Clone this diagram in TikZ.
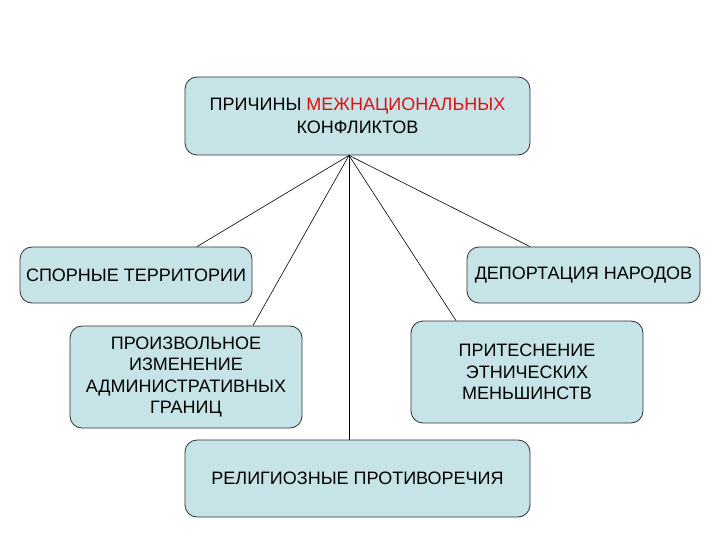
\documentclass[tikz,border=0pt]{standalone}
\usepackage{fontspec}
\setmainfont{Liberation Sans}
\usetikzlibrary{calc}
\definecolor{boxfill}{HTML}{C6E4E8}
\definecolor{boxline}{HTML}{303030}
\definecolor{redtext}{HTML}{E01010}
\tikzset{
  cbox/.style={draw=boxline, line width=0.8pt, fill=boxfill, rounded corners=12pt,
    align=center, inner sep=0pt, font=\fontsize{18}{21.5}\selectfont},
  link/.style={draw=black, line width=0.6pt}
}
\begin{document}
\begin{tikzpicture}[x=1pt,y=-1pt]
\useasboundingbox (0,0) rectangle (720,540);
\node[cbox, minimum width=345pt, minimum height=78pt, font=\fontsize{18}{23}\selectfont] (top) at (357.5,116)
  {ПРИЧИНЫ \textcolor{redtext}{МЕЖНАЦИОНАЛЬНЫХ}\\КОНФЛИКТОВ};
\node[cbox, minimum width=232pt, minimum height=56pt] (l1) at (136,275)
  {СПОРНЫЕ ТЕРРИТОРИИ};
\node[cbox, minimum width=233pt, minimum height=56pt] (r1) at (583.5,275)
  {ДЕПОРТАЦИЯ НАРОДОВ};
\node[cbox, minimum width=232pt, minimum height=102pt] (l2) at (186,377)
  {ПРОИЗВОЛЬНОЕ\\ИЗМЕНЕНИЕ\\АДМИНИСТРАТИВНЫХ\\ГРАНИЦ};
\node[cbox, minimum width=232pt, minimum height=102pt] (r2) at (527,372)
  {ПРИТЕСНЕНИЕ\\ЭТНИЧЕСКИХ\\МЕНЬШИНСТВ};
\node[cbox, minimum width=345pt, minimum height=77pt] (bot) at (357.5,478.5)
  {РЕЛИГИОЗНЫЕ ПРОТИВОРЕЧИЯ};
\coordinate (apex) at ([xshift=-8.5pt]top.south);
\draw[link] (apex) -- ([xshift=61pt]l1.north);
\draw[link] (apex) -- ([xshift=67pt]l2.north);
\draw[link] (apex) -- (apex |- bot.north);
\draw[link] (apex) -- ([xshift=-71pt]r2.north);
\draw[link] (apex) -- ([xshift=-53.5pt]r1.north);
\end{tikzpicture}
\end{document}
